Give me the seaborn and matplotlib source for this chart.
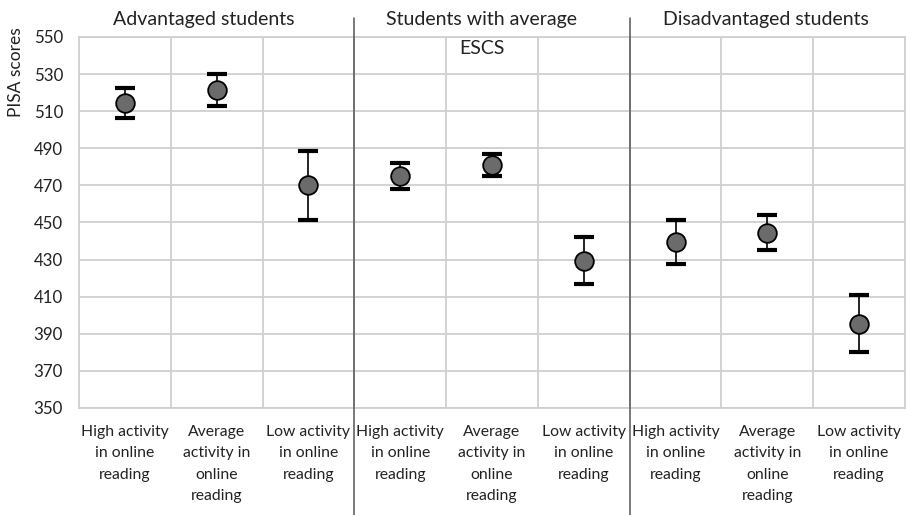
import matplotlib
matplotlib.use("Agg")
import matplotlib.pyplot as plt
import matplotlib.transforms as mtransforms
import numpy as np
import pandas as pd
import seaborn as sns

# Scores by socio-economic group and online reading activity
groups = ["Advantaged students", "Students with average", "Disadvantaged students"]
group_extra = "ESCS"
activity = ["High activity\nin online\nreading",
            "Average\nactivity in\nonline\nreading",
            "Low activity\nin online\nreading"]
scores = [514.5, 521.5, 470.0,
          475.0, 481.0, 429.5,
          439.5, 444.5, 395.5]
errors = [8.0, 8.5, 18.5,
          7.0, 6.0, 12.5,
          12.0, 9.5, 15.5]
y_ticks = list(range(350, 551, 20))

df = pd.DataFrame({
    "pos": np.arange(len(scores)),
    "label": activity * len(groups),
    "score": scores,
    "err": errors,
})

sns.set_theme(style="white")
plt.rcParams["font.family"] = ["Lato", "DejaVu Sans"]

fig = plt.figure(figsize=(9.07, 5.15), dpi=100)
ax = fig.add_axes([0.0871, 0.2078, 0.9107, 0.7204])

# error bars with thick caps
ax.errorbar(df["pos"], df["score"], yerr=df["err"], fmt="none",
            ecolor="black", elinewidth=1.2, capsize=7, capthick=3, zorder=3)

sns.scatterplot(data=df, x="pos", y="score", ax=ax, s=180, color="#6b6b6b",
                edgecolor="black", linewidth=1.3, zorder=4, legend=False)

ax.set_xlim(-0.5, len(scores) - 0.5)
ax.set_ylim(350, 550)
ax.set_yticks(y_ticks)
ax.set_yticklabels([str(t) for t in y_ticks], fontsize=12.2, color="#222222")
ax.set_xticks(df["pos"])
ax.set_xticklabels(df["label"], fontsize=11.3, color="#222222", linespacing=1.68,
                   va="top")
ax.tick_params(axis="x", length=0, pad=12)
ax.tick_params(axis="y", length=0, pad=11.5)
ax.set_xlabel("")
ax.set_ylabel("")

# grid: horizontal at ticks, vertical between categories
grid_c = "#cfcfcf"
for t in y_ticks:
    ax.axhline(t, color=grid_c, lw=1.3, zorder=1)
for b in np.arange(0.5, len(scores) - 0.5, 1.0):
    ax.axvline(b, color=grid_c, lw=1.3, zorder=1)
for s in ax.spines.values():
    s.set_color(grid_c)
    s.set_linewidth(1.3)

# separators between groups, extending past the plot area
trans = mtransforms.blended_transform_factory(ax.transData, ax.transAxes)
for b in (2.5, 5.5):
    ax.plot([b, b], [-0.29, 1.052], transform=trans, color="#555555", lw=1.1,
            clip_on=False, zorder=5)

# group titles
title_x = [0.86, 3.89, 6.99]
for x, g in zip(title_x, groups):
    ax.text(x, 1.047, g, transform=trans, ha="center", va="center", fontsize=14,
            color="#222222")
ax.text(title_x[1], 0.97, group_extra, transform=trans, ha="center", va="center",
        fontsize=14, color="#222222")

ax.text(-0.076, 1.025, "PISA scores", transform=ax.transAxes, rotation=90,
        ha="center", va="top", fontsize=12.5, color="#222222")

fig.savefig("out.png", dpi=100)
